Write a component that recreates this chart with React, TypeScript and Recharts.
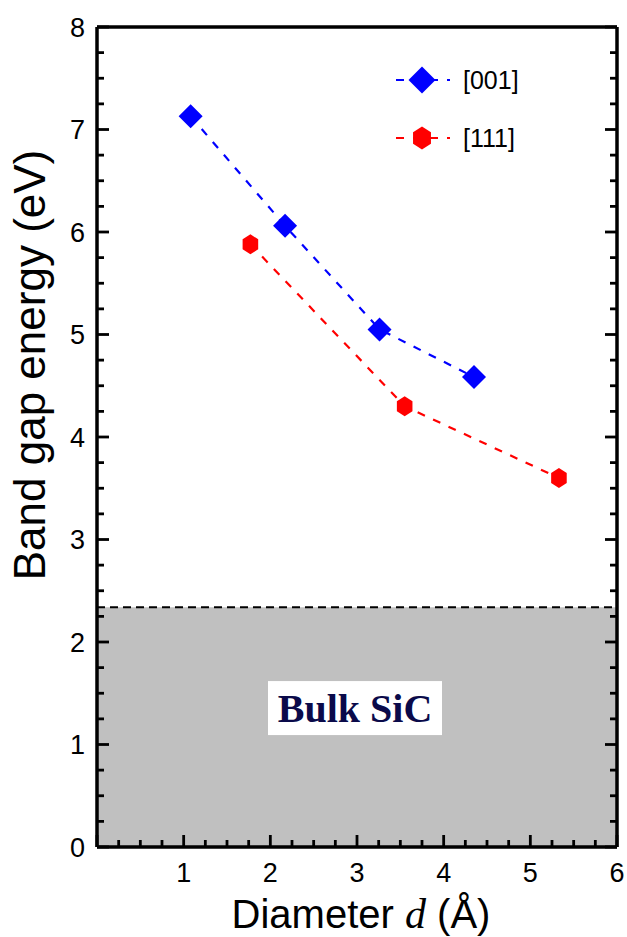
import { ScatterChart, Scatter, XAxis, YAxis, ReferenceArea, ReferenceLine, Legend } from 'recharts'

// [001] nanowires
const diam001 = [1.08, 2.17, 3.26, 4.35]
const gap001 = [7.13, 6.06, 5.05, 4.585]
// [111] nanowires
const diam111 = [1.77, 3.55, 5.33]
const gap111 = [5.88, 4.3, 3.6]

const bulkGap = 2.34
const seriesNames = ['[001]', '[111]']

const xTicks = [0, 0.25, 0.5, 0.75, 1, 1.25, 1.5, 1.75, 2, 2.25, 2.5, 2.75, 3, 3.25, 3.5, 3.75, 4, 4.25, 4.5, 4.75, 5, 5.25, 5.5, 5.75, 6]
const yTicks = [0, 0.25, 0.5, 0.75, 1, 1.25, 1.5, 1.75, 2, 2.25, 2.5, 2.75, 3, 3.25, 3.5, 3.75, 4, 4.25, 4.5, 4.75, 5, 5.25, 5.5, 5.75, 6, 6.25, 6.5, 6.75, 7, 7.25, 7.5, 7.75, 8]

const data001 = diam001.map((d, i) => ({ x: d, y: gap001[i] }))
const data111 = diam111.map((d, i) => ({ x: d, y: gap111[i] }))

const SANS = 'Arial, "Liberation Sans", sans-serif'
const SERIF = '"Times New Roman", "Liberation Serif", serif'
const BLUE = '#0000ff'
const RED = '#ff0000'
const MAJOR = 12
const MINOR = 7

const isMajor = (v: number) => Math.abs(v - Math.round(v)) < 1e-6

function Diamond({ cx, cy, r = 12, fill = BLUE }: any) {
  return <path d={`M${cx},${cy - r}L${cx + r},${cy}L${cx},${cy + r}L${cx - r},${cy}Z`} fill={fill} />
}

function Hexagon({ cx, cy, r = 10, fill = RED }: any) {
  const pts = [0, 1, 2, 3, 4, 5].map((k) => {
    const a = (Math.PI / 3) * k - Math.PI / 2
    return `${cx + r * 0.9 * Math.cos(a)},${cy + r * Math.sin(a)}`
  })
  return <polygon points={pts.join(' ')} fill={fill} />
}

const BottomTick = ({ x, y, payload }: any) => {
  const v = payload.value
  const len = isMajor(v) ? MAJOR : MINOR
  return (
    <g>
      <line x1={x} y1={y} x2={x} y2={y - len} stroke="#000" strokeWidth={2.8} />
      {isMajor(v) && v > 0 && (
        <text x={x} y={y + 35} textAnchor="middle" fontSize={27} fontFamily={SANS} fill="#000">{v}</text>
      )}
    </g>
  )
}

const TopTick = ({ x, y, payload }: any) => {
  const len = isMajor(payload.value) ? MAJOR : MINOR
  return <line x1={x} y1={y} x2={x} y2={y + len} stroke="#000" strokeWidth={2.8} />
}

const LeftTick = ({ x, y, payload }: any) => {
  const v = payload.value
  const len = isMajor(v) ? MAJOR : MINOR
  return (
    <g>
      <line x1={x} y1={y} x2={x + len} y2={y} stroke="#000" strokeWidth={2.8} />
      {isMajor(v) && (
        <text x={x - 12} y={y + 9.5} textAnchor="end" fontSize={27} fontFamily={SANS} fill="#000">{v}</text>
      )}
    </g>
  )
}

const RightTick = ({ x, y, payload }: any) => {
  const len = isMajor(payload.value) ? MAJOR : MINOR
  return <line x1={x} y1={y} x2={x - len} y2={y} stroke="#000" strokeWidth={2.8} />
}

const BulkLabel = ({ viewBox }: any) => {
  const cx = viewBox.x + viewBox.width / 2 - 2
  const cy = viewBox.y + viewBox.height / 2 - 19
  return (
    <g>
      <rect x={cx - 87} y={cy - 27} width={174} height={54} fill="#fff" />
      <text x={cx} y={cy + 14} textAnchor="middle" fontSize={40} fontWeight="bold" fontFamily={SERIF} fill="#0a0a4a">
        Bulk SiC
      </text>
    </g>
  )
}

const YLabel = () => (
  <text transform="translate(45,365) rotate(-90)" textAnchor="middle" fontSize={44} fontFamily={SANS} fill="#000">
    Band gap energy (eV)
  </text>
)

const XLabel = () => (
  <text x={361} y={928} textAnchor="middle" fontSize={40} fontFamily={SANS} fill="#000">
    Diameter <tspan fontFamily={SERIF} fontStyle="italic" fontSize={42}>d</tspan> (Å)
  </text>
)

const LegendBox = () => (
  <svg width={160} height={110}>
    {seriesNames.map((name, i) => {
      const cy = 20 + i * 58
      const color = i === 0 ? BLUE : RED
      return (
        <g key={name}>
          <line x1={5} y1={cy} x2={60} y2={cy} stroke={color} strokeWidth={2.2} strokeDasharray="8 9" strokeDashoffset={-1} />
          {i === 0 ? <Diamond cx={32} cy={cy} r={13.5} /> : <Hexagon cx={32} cy={cy} r={11.5} />}
          <text x={73} y={cy + 9} fontSize={25} fontFamily={SANS} fill="#000">{name}</text>
        </g>
      )
    })}
  </svg>
)

export default function App() {
  return (
    <div style={{ position: 'absolute', left: 0, top: 0, width: 627, height: 937, background: '#fff' }}>
      <ScatterChart width={627} height={937} margin={{ top: 26, right: 9, bottom: 89, left: 96 }}>
        <ReferenceArea xAxisId="b" yAxisId="l" x1={0} x2={6} y1={0} y2={bulkGap} fill="#c0c0c0" fillOpacity={1} stroke="none" label={<BulkLabel />} />
        <ReferenceLine xAxisId="b" yAxisId="l" y={bulkGap} stroke="#000" strokeWidth={2} strokeDasharray="8 5" />
        <XAxis xAxisId="b" type="number" dataKey="x" domain={[0, 6]} ticks={xTicks} interval={0} height={1} tickSize={0} tickMargin={0}
          tickLine={false} tick={<BottomTick />} axisLine={{ stroke: '#000', strokeWidth: 3.5 }} allowDataOverflow label={<XLabel />} />
        <XAxis xAxisId="t" orientation="top" type="number" domain={[0, 6]} ticks={xTicks} interval={0} height={1} tickSize={0} tickMargin={0}
          tickLine={false} tick={<TopTick />} axisLine={{ stroke: '#000', strokeWidth: 3.5 }} allowDataOverflow />
        <YAxis yAxisId="l" type="number" dataKey="y" domain={[0, 8]} ticks={yTicks} interval={0} width={1} tickSize={0} tickMargin={0}
          tickLine={false} tick={<LeftTick />} axisLine={{ stroke: '#000', strokeWidth: 3.5 }} allowDataOverflow label={<YLabel />} />
        <YAxis yAxisId="r" orientation="right" type="number" domain={[0, 8]} ticks={yTicks} interval={0} width={1} tickSize={0} tickMargin={0}
          tickLine={false} tick={<RightTick />} axisLine={{ stroke: '#000', strokeWidth: 3.5 }} allowDataOverflow />
        <Scatter xAxisId="b" yAxisId="l" name={seriesNames[0]} data={data001} fill={BLUE} isAnimationActive={false}
          line={{ stroke: BLUE, strokeWidth: 2.2, strokeDasharray: '8 9' }} lineType="joint"
          shape={(p: any) => <Diamond cx={p.cx} cy={p.cy} />} />
        <Scatter xAxisId="b" yAxisId="l" name={seriesNames[1]} data={data111} fill={RED} isAnimationActive={false}
          line={{ stroke: RED, strokeWidth: 2.2, strokeDasharray: '8 9' }} lineType="joint"
          shape={(p: any) => <Hexagon cx={p.cx} cy={p.cy} />} />
        <Legend layout="horizontal" verticalAlign="middle" align="center" content={<LegendBox />}
          wrapperStyle={{ position: 'absolute', left: 390, top: 60, width: 160, height: 110 }} />
      </ScatterChart>
    </div>
  )
}
